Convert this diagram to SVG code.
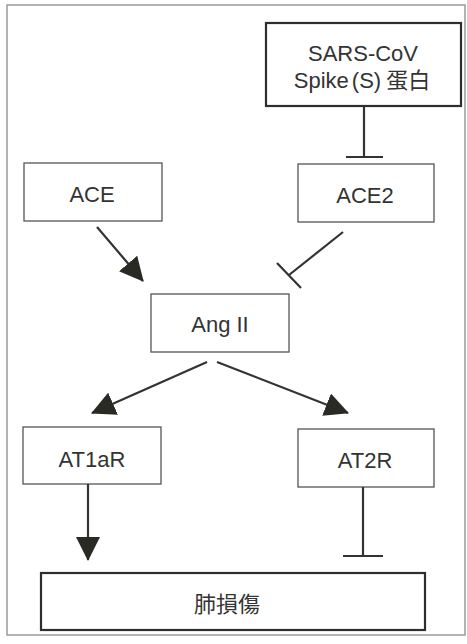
<svg xmlns="http://www.w3.org/2000/svg" width="467" height="644" viewBox="0 0 467 644">
<defs>
<style>
.box{fill:#fff;stroke:#555;stroke-width:1.3}
.thick{fill:#fff;stroke:#2e2e2e;stroke-width:2.2}
.t{font-family:"Liberation Sans",Arial,"Noto Sans CJK SC",sans-serif;font-size:22px;fill:#333;text-anchor:middle}
.c{stroke:#333;stroke-width:2.2;fill:none}
</style>
<marker id="ah" markerUnits="userSpaceOnUse" markerWidth="24" markerHeight="24" viewBox="0 0 24 24" refX="23" refY="12" orient="auto">
<path d="M0,0 L24,12 L0,24 z" fill="#2a2a24"/>
</marker>
</defs>
<rect x="0" y="0" width="467" height="644" fill="#fff"/>
<rect x="7" y="5" width="458" height="630" fill="none" stroke="#8a8a8a" stroke-width="1.3"/>
<g id="sars"><rect class="thick" x="266" y="23" width="195" height="83"/><text class="t" x="363" y="61">SARS-CoV</text><text class="t" x="362" y="88">Spike<tspan dx="3">(S)</tspan><tspan dx="5">蛋白</tspan></text></g>
<g id="ace"><rect class="box" x="24" y="163" width="138" height="58"/><text class="t" x="92" y="202">ACE</text></g>
<g id="ace2"><rect class="box" x="298" y="164" width="136" height="58"/><text class="t" x="365" y="203">ACE2</text></g>
<g id="angii"><rect class="box" x="151" y="294" width="138" height="58"/><text class="t" x="220" y="332">Ang II</text></g>
<g id="at1ar"><rect class="box" x="23" y="427" width="138" height="57"/><text class="t" x="92" y="467">AT1aR</text></g>
<g id="at2r"><rect class="box" x="298" y="429" width="136" height="58"/><text class="t" x="365" y="468">AT2R</text></g>
<g id="lung"><rect class="thick" x="41" y="573" width="384" height="57"/><text class="t" x="227" y="612">肺損傷</text></g>
<g id="connectors">
<line class="c" x1="364" y1="106" x2="364" y2="157"/><line class="c" x1="346" y1="157" x2="383" y2="157"/>
<line class="c" x1="97" y1="227" x2="143" y2="281" marker-end="url(#ah)"/>
<line class="c" x1="343" y1="232" x2="289" y2="275"/><line class="c" x1="277" y1="263" x2="301" y2="288"/>
<line class="c" x1="207" y1="362" x2="92" y2="413" marker-end="url(#ah)"/>
<line class="c" x1="217" y1="362" x2="348" y2="413" marker-end="url(#ah)"/>
<line class="c" x1="88" y1="484" x2="88" y2="560" marker-end="url(#ah)"/>
<line class="c" x1="363" y1="487" x2="363" y2="556"/><line class="c" x1="343" y1="556" x2="383" y2="556"/>
</g>
</svg>
